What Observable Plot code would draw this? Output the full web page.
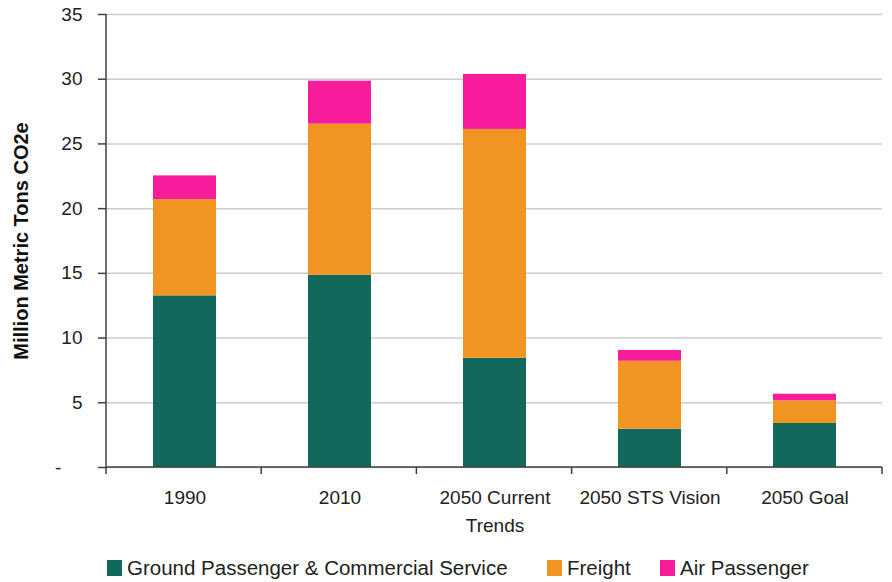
<!DOCTYPE html>
<html>
<head>
<meta charset="utf-8">
<script src="https://cdn.jsdelivr.net/npm/d3@7"></script>
<script src="https://cdn.jsdelivr.net/npm/@observablehq/plot@0.6"></script>
<style>
  html, body { margin: 0; padding: 0; background: #fff; }
  body { width: 892px; height: 582px; overflow: hidden; font-family: "Liberation Sans", Arial, sans-serif; }
  #legend { position: relative; width: 892px; height: 37px; font-size: 20.5px; color: #222; }
  .item { position: absolute; top: 13px; line-height: 20px; white-space: nowrap; }
  .sw { position: absolute; top: 15px; width: 15px; height: 16px; }
</style>
</head>
<body>
<div id="chart"></div>
<div id="legend"></div>
<script>
const categories = ["1990", "2010", "2050 Current Trends", "2050 STS Vision", "2050 Goal"];
const tickLabels = ["1990", "2010", "2050 Current\nTrends", "2050 STS Vision", "2050 Goal"];
const seriesNames = ["Ground Passenger & Commercial Service", "Freight", "Air Passenger"];
const seriesColors = ["#12695B", "#F29422", "#F61C9B"];
const ground  = [13.26, 14.86, 8.45, 2.96, 3.40];
const freight = [7.44, 11.67, 17.67, 5.25, 1.75];
const air     = [1.83, 3.32, 4.25, 0.83, 0.51];
const yTicks = [0, 5, 10, 15, 20, 25, 30, 35];
const yTitle = "Million Metric Tons CO2e";

const seriesValues = [ground, freight, air];
const data = categories.flatMap((c, i) =>
  seriesNames.map((s, j) => ({category: c, series: s, value: seriesValues[j][i]}))
);

function axisLines(index, scales, values, dims) {
  const g = d3.create("svg:g").attr("stroke", "#404040").attr("stroke-width", 1.5);
  const n = categories.length;
  const left = dims.marginLeft, right = dims.width - dims.marginRight;
  const step = (right - left) / n;
  const y0 = scales.y(0), yTop = scales.y(35);
  g.append("line").attr("x1", left).attr("x2", left).attr("y1", yTop).attr("y2", y0);
  g.append("line").attr("x1", left).attr("x2", right).attr("y1", y0).attr("y2", y0);
  for (let i = 0; i <= n; i++) {
    const x = left + i * step;
    g.append("line").attr("x1", x).attr("x2", x).attr("y1", y0).attr("y2", y0 + 7);
  }
  return g.node();
}

const chart = Plot.plot({
  width: 892,
  height: 545,
  marginLeft: 106,
  marginRight: 10,
  marginTop: 14,
  marginBottom: 78,
  style: {fontFamily: '"Liberation Sans", Arial, sans-serif', color: "#222", background: "#fff"},
  x: {domain: categories, paddingInner: 0.595, paddingOuter: 0.2975},
  y: {domain: [0, 35]},
  color: {domain: seriesNames, range: seriesColors},
  marks: [
    Plot.gridY(yTicks, {stroke: "#cccccc", strokeOpacity: 1, strokeWidth: 1.5}),
    Plot.barY(data, {x: "category", y: "value", fill: "series", order: seriesNames}),
    Plot.axisY({
      ticks: yTicks,
      tickFormat: d => d === 0 ? "-\u00a0\u00a0\u00a0\u00a0" : String(d),
      tickSize: 8,
      tickPadding: 16,
      fontSize: 19,
      stroke: "#404040",
      strokeWidth: 1.5,
      fill: "#222",
      label: null
    }),
    Plot.axisX({
      tickSize: 0,
      tickPadding: 17,
      fontSize: 19,
      lineHeight: 1.45,
      fill: "#222",
      tickFormat: d => tickLabels[categories.indexOf(d)],
      label: null
    }),
    axisLines,
    Plot.text([yTitle], {
      text: d => d,
      frameAnchor: "left",
      rotate: -90,
      dx: -85,
      fontSize: 20,
      fontWeight: "bold",
      fill: "#111",
      lineAnchor: "middle",
      textAnchor: "middle"
    })
  ]
});
document.getElementById("chart").appendChild(chart);

const legend = document.getElementById("legend");
const itemX = [107, 547, 660];
seriesNames.forEach((s, i) => {
  const sw = document.createElement("div");
  sw.className = "sw";
  sw.style.left = itemX[i] + "px";
  sw.style.background = seriesColors[i];
  legend.appendChild(sw);
  const t = document.createElement("div");
  t.className = "item";
  t.style.left = (itemX[i] + 20) + "px";
  t.textContent = s;
  legend.appendChild(t);
});
</script>
</body>
</html>
